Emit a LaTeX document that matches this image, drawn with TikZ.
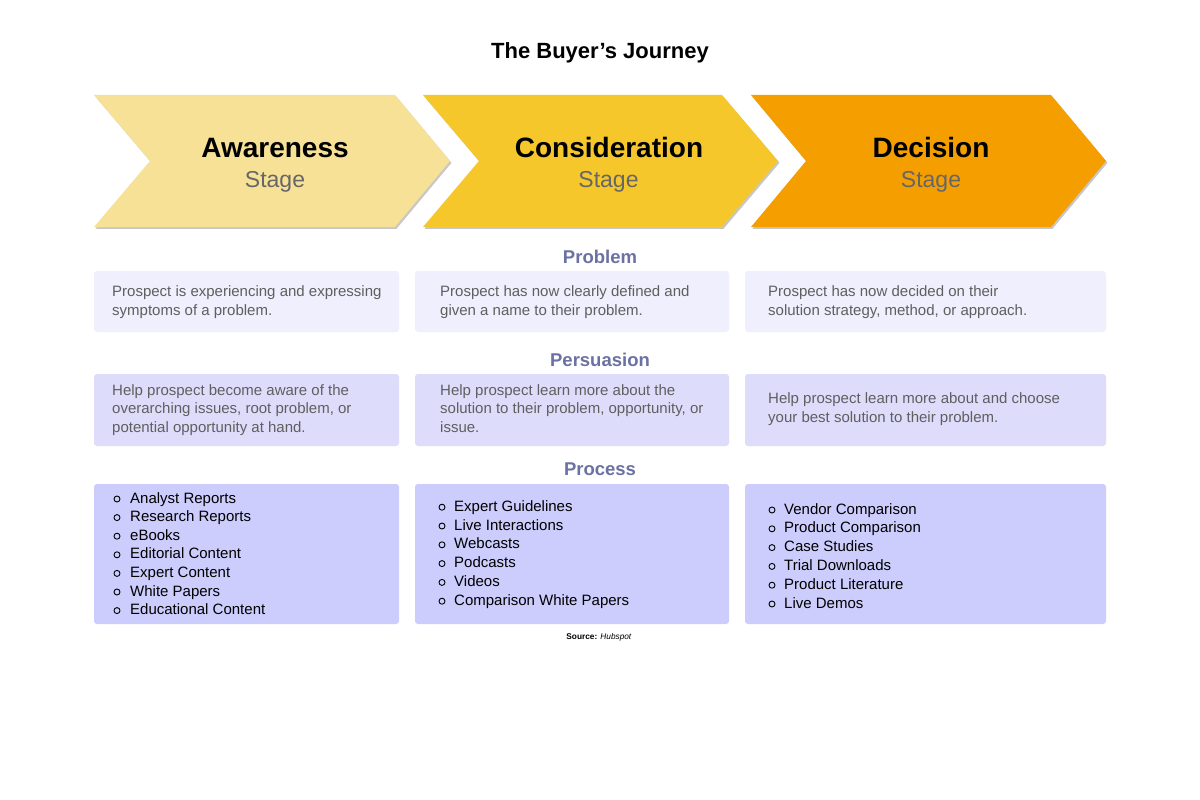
\documentclass[tikz,border=0pt]{standalone}
\usepackage{fontspec}
\setmainfont{Liberation Sans}
\definecolor{cA}{HTML}{F7E196}
\definecolor{cB}{HTML}{F5C72A}
\definecolor{cC}{HTML}{F59E00}
\definecolor{secc}{HTML}{6B71A3}
\definecolor{rowa}{HTML}{EFEFFD}
\definecolor{rowb}{HTML}{DDDCFB}
\definecolor{rowc}{HTML}{CCCCFD}
\definecolor{txtg}{HTML}{5F5F5F}
\definecolor{stg}{HTML}{666666}
\begin{document}
\begin{tikzpicture}[x=1pt,y=-1pt,
  stagename/.style={anchor=base,inner sep=0,font=\fontsize{28}{32}\selectfont\bfseries,text=black},
  stagesub/.style={anchor=base,inner sep=0,font=\fontsize{23}{26}\selectfont,text=stg},
  sectlbl/.style={anchor=base,inner sep=0,font=\fontsize{18.5}{22}\selectfont\bfseries,text=secc},
  bodytxt/.style={anchor=base west,inner sep=0,font=\fontsize{15}{18}\selectfont,text=txtg},
  listtxt/.style={anchor=base west,inner sep=0,font=\fontsize{15}{18}\selectfont,text=black},
  bul/.style={circle,draw=black,line width=0.9pt,minimum size=6pt,inner sep=0},
  chevshadow/.style={fill=black!40,opacity=0.55},
  boxa/.style={fill=rowa,rounded corners=3pt},
  boxb/.style={fill=rowb,rounded corners=3pt},
  boxc/.style={fill=rowc,rounded corners=3pt}]
\useasboundingbox (0,0) rectangle (1200,800);
\fill[white] (0,0) rectangle (1200,800);

% title
\node[anchor=base,inner sep=0,font=\fontsize{22}{26}\selectfont\bfseries] (title) at (600,59) {The Buyer’s Journey};

% chevrons
\begin{scope}[shift={(1.5,1.8)}]
\fill[chevshadow] (94,95) -- (395,95) -- (450,161) -- (395,227) -- (94,227) -- (150,161) -- cycle;
\fill[chevshadow] (423,95) -- (722,95) -- (778,161) -- (722,227) -- (423,227) -- (479,161) -- cycle;
\fill[chevshadow] (751,95) -- (1051,95) -- (1106,161) -- (1051,227) -- (751,227) -- (806,161) -- cycle;
\end{scope}
\fill[cA] (94,95) -- (395,95) -- (450,161) -- (395,227) -- (94,227) -- (150,161) -- cycle;
\fill[cB] (423,95) -- (722,95) -- (778,161) -- (722,227) -- (423,227) -- (479,161) -- cycle;
\fill[cC] (751,95) -- (1051,95) -- (1106,161) -- (1051,227) -- (751,227) -- (806,161) -- cycle;

\node[stagename] (aw) at (275,157) {Awareness};
\node[stagesub] (aws) at (275,187) {Stage};
\node[stagename] (co) at (609,157) {Consideration};
\node[stagesub] (cos) at (608.5,187) {Stage};
\node[stagename] (de) at (931,157) {Decision};
\node[stagesub] (des) at (931,187) {Stage};

% section labels
\node[sectlbl] (sprob) at (600,263) {Problem};
\node[sectlbl] (spers) at (600,366) {Persuasion};
\node[sectlbl] (sproc) at (600,475) {Process};

% boxes
\fill[boxa] (94,271) rectangle (399,332);
\fill[boxa] (415,271) rectangle (729,332);
\fill[boxa] (745,271) rectangle (1106,332);
\fill[boxb] (94,374) rectangle (399,446);
\fill[boxb] (415,374) rectangle (729,446);
\fill[boxb] (745,374) rectangle (1106,446);
\fill[boxc] (94,484) rectangle (399,624);
\fill[boxc] (415,484) rectangle (729,624);
\fill[boxc] (745,484) rectangle (1106,624);

% row 1
\foreach \t [count=\i] in {{Prospect is experiencing and expressing},{symptoms of a problem.}}
  \node[bodytxt] (pa-\i) at (112,{277+19*\i}) {\t};
\foreach \t [count=\i] in {{Prospect has now clearly defined and},{given a name to their problem.}}
  \node[bodytxt] (pb-\i) at (440,{277+19*\i}) {\t};
\foreach \t [count=\i] in {{Prospect has now decided on their},{solution strategy, method, or approach.}}
  \node[bodytxt] (pc-\i) at (768,{277+19*\i}) {\t};

% row 2
\foreach \t [count=\i] in {{Help prospect become aware of the},{overarching issues, root problem, or},{potential opportunity at hand.}}
  \node[bodytxt] (ha-\i) at (112,{376.5+18.5*\i}) {\t};
\foreach \t [count=\i] in {{Help prospect learn more about the},{solution to their problem, opportunity, or},{issue.}}
  \node[bodytxt] (hb-\i) at (440,{376.5+18.5*\i}) {\t};
\foreach \t [count=\i] in {{Help prospect learn more about and choose},{your best solution to their problem.}}
  \node[bodytxt] (hc-\i) at (768,{384+19*\i}) {\t};

% row 3
\foreach \t [count=\i] in {{Analyst Reports},{Research Reports},{eBooks},{Editorial Content},{Expert Content},{White Papers},{Educational Content}}{
  \node[bul] (ba-\i) at (117,{484.4+18.6*\i-4}) {};
  \node[listtxt] (la-\i) at (130,{484.4+18.6*\i}) {\t};
}
\foreach \t [count=\i] in {{Expert Guidelines},{Live Interactions},{Webcasts},{Podcasts},{Videos},{Comparison White Papers}}{
  \node[bul] (bb-\i) at (442,{492.4+18.8*\i-4}) {};
  \node[listtxt] (lb-\i) at (454,{492.4+18.8*\i}) {\t};
}
\foreach \t [count=\i] in {{Vendor Comparison},{Product Comparison},{Case Studies},{Trial Downloads},{Product Literature},{Live Demos}}{
  \node[bul] (bc-\i) at (772,{495.2+18.8*\i-4}) {};
  \node[listtxt] (lc-\i) at (784,{495.2+18.8*\i}) {\t};
}

% source
\node[anchor=base,inner sep=0,font=\fontsize{8.3}{10}\selectfont] (src) at (599,639) {\textbf{Source:} \textit{Hubspot}};
\end{tikzpicture}
\end{document}
